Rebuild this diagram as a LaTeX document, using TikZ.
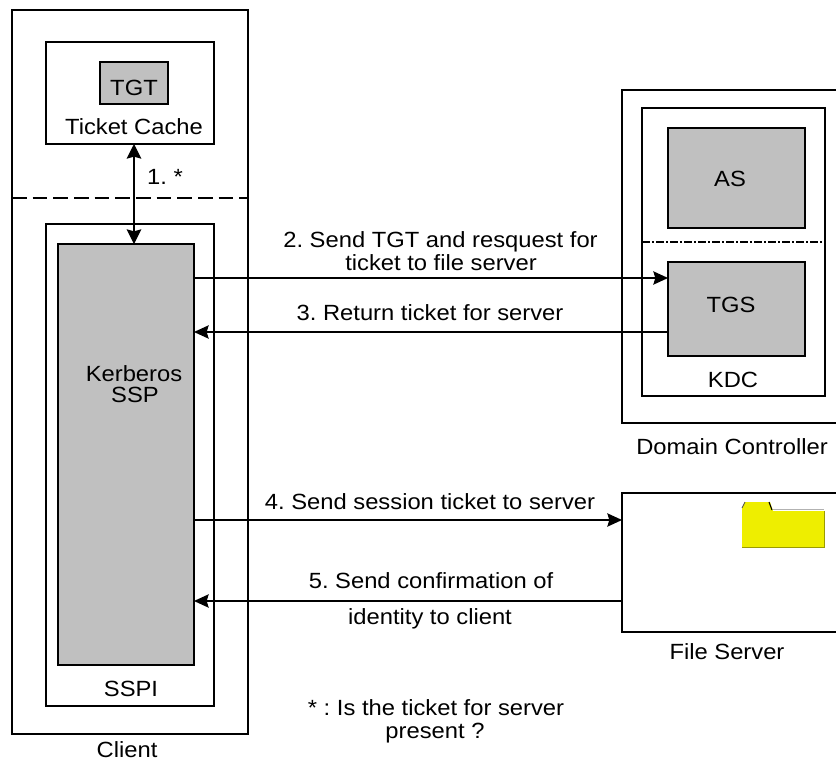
\documentclass[tikz,border=0pt]{standalone}
\usepackage{fontspec}
\setmainfont[FakeStretch=1.08]{Liberation Sans}
\usepackage{xcolor}
\usepackage{tikz}
\usetikzlibrary{arrows.meta,positioning}
\definecolor{boxgray}{RGB}{192,192,192}
\definecolor{foldery}{RGB}{238,238,0}
\tikzset{
	frame/.style={draw=black,line width=1pt,fill=white,inner sep=0pt,outer sep=0pt,minimum width=#1},
	graybox/.style={draw=black,line width=1pt,fill=boxgray,inner sep=0pt,outer sep=0pt,minimum width=#1},
	msg/.style={line width=1pt,-{Stealth[length=11pt,width=10pt,inset=1.5pt]}},
	lbl/.style={inner sep=0pt,align=center}
}
\newcommand{\boxat}[6]{% name, style, left, top, right, bottom
	\pgfmathsetmacro{\bw}{(#5-#3)*0.75}
	\pgfmathsetmacro{\bh}{(#6-#4)*0.75}
	\node[#2=\bw pt,minimum height=\bh pt,anchor=north west] (#1) at (#3,#4) {};
}
\begin{document}
\frenchspacing
\fontsize{16.5pt}{20pt}\selectfont
\begin{tikzpicture}[x=0.75pt,y=-0.75pt]
	\useasboundingbox (0,0) rectangle (836,760);
	% client side
	\boxat{client}{frame}{12}{10}{248}{734}
	\boxat{cache}{frame}{46}{42}{214}{144}
	\boxat{tgt}{graybox}{100}{62}{168}{104}
	\boxat{sspi}{frame}{46}{224}{214}{706}
	\boxat{ssp}{graybox}{58}{244}{194}{665}
	\coordinate (cutl) at (client.west |- 0,198);
	\coordinate (cutr) at (client.east |- 0,198);
	\draw[line width=1pt,dash pattern=on 11pt off 4.5pt] (cutl) -- (cutr);
	\node[lbl] at (134,88) {TGT};
	\node[lbl] at (134,126.5) {Ticket Cache};
	\node[lbl] at (134,373.5) {Kerberos};
	\node[lbl] at (135,394.5) {SSP};
	\node[lbl] at (131,688.5) {SSPI};
	\node[lbl] at (127,749.5) {Client};
	% domain controller, runs off the right edge
	\boxat{dc}{frame}{622}{90}{846}{423}
	\boxat{kdc}{frame}{642}{108}{825}{396}
	\boxat{as}{graybox}{668}{128}{805}{228}
	\boxat{tgs}{graybox}{668}{262}{805}{356}
	\coordinate (splitl) at (kdc.west |- 0,242);
	\coordinate (splitr) at (kdc.east |- 0,242);
	\draw[line width=1pt,dash pattern=on 6pt off 1.5pt on 1.5pt off 1.5pt] (splitl) -- (splitr);
	\node[lbl] at (730,178.5) {AS};
	\node[lbl] at (731,304.5) {TGS};
	\node[lbl] at (733,379.5) {KDC};
	\node[lbl] at (732,446.5) {Domain Controller};
	% file server
	\boxat{fs}{frame}{622}{493}{846}{632}
	\fill[fill=foldery]
	(742,547) -- (742,508) -- (745,502) -- (770,502) -- (773,511) -- (824,511) -- (824,547) -- cycle;
	\draw[line width=0.6pt,black!70] (742,508) -- (745,502);
	\draw[line width=0.8pt,black] (769,502) -- (772,510);
	\draw[line width=0.6pt,black!30] (773,509.5) -- (824,509.5);
	\draw[line width=0.6pt,black!35!foldery] (742,547) -- (824,547) -- (824,511);
	\node[lbl] at (727,651.5) {File Server};
	% messages
	\draw[line width=1pt,{Stealth[length=11pt,width=11pt,inset=1.5pt]}-{Stealth[length=11pt,width=11pt,inset=1.5pt]}] (cache.south -| 134,0) -- (ssp.north -| 134,0);
	\draw[msg] (ssp.east |- 0,278) -- (tgs.west |- 0,278);
	\draw[msg] (tgs.west |- 0,332) -- (ssp.east |- 0,332);
	\draw[msg] (ssp.east |- 0,520) -- (fs.west |- 0,520);
	\draw[msg] (fs.west |- 0,601) -- (ssp.east |- 0,601);
	\node[lbl] at (165,176.5) {1. *};
	\node[lbl] at (440.5,241.5) {2. Send TGT and resquest for};
	\node[lbl] at (441,262.5) {ticket to file server};
	\node[lbl] at (430,312.5) {3. Return ticket for server};
	\node[lbl] at (430,501.5) {4. Send session ticket to server};
	\node[lbl] at (431,580.5) {5. Send confirmation of};
	\node[lbl] at (430,619) {identity to client};
	\node[lbl] at (436,708) {* : Is the ticket for server};
	\node[lbl] at (435,733) {present ?};
\end{tikzpicture}
\end{document}
